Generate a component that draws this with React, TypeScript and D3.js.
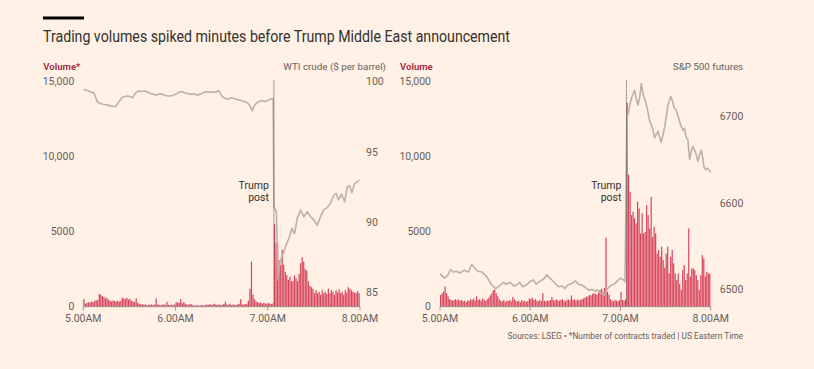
import React, { useEffect, useRef } from "react";
import * as d3 from "d3";

// ---- shared axis data ----
const TIME_TICKS = [0, 60, 120, 180]; // minutes after 5.00AM
const TIME_LABELS = ["5.00AM", "6.00AM", "7.00AM", "8.00AM"];
const VOLUME_TICKS = [0, 5000, 10000, 15000];
const VOLUME_LABELS = ["0", "5000", "10,000", "15,000"];
const POST_MINUTE = 124; // Trump post, ~7.04AM

// ---- WTI crude panel ----
// contracts traded per minute, 5.00AM - 7.59AM
const wtiVolume = [
  500, 200, 250, 300, 280, 350, 300, 400, 420, 450,
  850, 800, 700, 650, 550, 600, 450, 400, 350, 420,
  380, 350, 400, 330, 380, 600, 550, 500, 600, 480,
  520, 400, 350, 300, 550, 250, 200, 150, 180, 120,
  150, 100, 130, 120, 150, 110, 140, 550, 150, 120,
  100, 130, 150, 120, 330, 120, 100, 140, 110, 150,
  300, 280, 250, 500, 220, 300, 200, 150, 120, 180,
  150, 100, 80, 90, 100, 70, 90, 110, 80, 100,
  150, 120, 180, 100, 150, 200, 130, 110, 150, 100,
  120, 180, 330, 150, 120, 200, 100, 150, 130, 110,
  150, 200, 500, 150, 130, 180, 200, 400, 1200, 3000,
  800, 500, 350, 300, 250, 280, 200, 250, 220, 200,
  250, 200, 180, 220,
  5500, 4300, 4200, 3100, 2800, 3800, 2800, 2300, 2100, 1800,
  2000, 1700, 1700, 2100, 1900, 1700, 2200, 2900, 3300, 3000,
  2500, 2400, 1700, 1400, 1300, 1200, 900, 1100, 900, 1000,
  800, 1100, 900, 1000, 850, 1200, 900, 1100, 1000, 800,
  1100, 950, 1150, 900, 1000, 800, 1100, 950, 1300, 1200,
  1100, 1000, 950, 900, 1050, 900,
];
const wtiMinutes = [
  0, 3, 5, 7, 9, 11, 13, 15, 17, 19, 21, 23, 25, 27, 29, 31, 32, 34, 36, 38,
  40, 42, 44, 46, 48, 50, 52, 54, 56, 58, 60, 62, 64, 66, 68, 70, 72, 74, 76, 78,
  80, 82, 84, 86, 88, 90, 92, 94, 96, 98, 100, 102, 104, 106, 108, 110, 111, 113, 115, 117,
  119, 121, 123.5, 124, 125.6, 126.7, 127.8, 130, 132, 134.2, 135.7, 137.4, 139.2, 141.3, 143.5, 145.7, 147.9, 150, 152.2, 154.3,
  156.5, 158.7, 160.8, 163, 164.5, 166, 168, 170, 171.7, 173.2, 174.7, 176.4, 178.6, 179.5,
];
const wtiPrices = [
  99.46, 99.36, 99.26, 99.2, 98.6, 98.45, 98.4, 98.36, 98.3, 98.25, 98.24, 98.55, 98.85, 98.95, 98.98, 98.92, 98.85, 99.2, 99.34, 99.3,
  99.34, 99.26, 99.14, 99.1, 99.06, 99.14, 99.08, 99.0, 98.98, 99.02, 99.1, 99.24, 99.3, 99.2, 99.16, 99.1, 99.14, 99.06, 99.1, 99.22,
  99.28, 99.24, 99.28, 99.25, 99.36, 99.0, 98.82, 98.76, 98.86, 98.8, 98.74, 98.7, 98.6, 98.56, 98.36, 97.94, 98.25, 98.5, 98.62, 98.65,
  98.58, 98.74, 98.8, 91.1, 90.75, 85.9, 87.1, 87.8, 88.4, 88.98, 89.57, 89.2, 90.28, 90.87, 90.4, 90.75, 90.4, 90.16, 89.8, 90.4,
  90.9, 91.05, 91.35, 91.94, 92.06, 91.6, 92.0, 91.47, 92.53, 92.6, 92.1, 92.75, 92.9, 93.0,
];
const WTI_TICKS = [85, 90, 95, 100];

// ---- S&P 500 futures panel ----
const spxVolume = [
  780, 890, 1000, 1350, 900, 700, 500, 450, 400, 450,
  500, 420, 480, 400, 450, 350, 400, 300, 420, 380,
  500, 450, 550, 400, 700, 450, 500, 400, 550, 450,
  380, 500, 600, 750, 900, 1100, 1150, 900, 700, 500,
  400, 350, 450, 300, 400, 380, 450, 350, 650, 500,
  400, 350, 400, 300, 450, 350, 400, 320, 380, 550,
  500, 600, 450, 500, 400, 350, 450, 380, 900, 400,
  350, 420, 380, 450, 650, 450, 400, 500, 420, 380,
  450, 500, 400, 350, 450, 480, 420, 750, 450, 500,
  400, 480, 420, 450, 500, 550, 600, 650, 700, 800,
  750, 850, 900, 850, 800, 950, 1100, 1200, 1000, 1250,
  4600, 1000, 800, 500, 400, 350, 450, 400, 350, 450,
  1000, 450, 400, 500,
  13600, 8800, 7660, 6100, 6330, 5900, 5550, 7000, 6550, 4890,
  6220, 4890, 5000, 6770, 6100, 5200, 7330, 4660, 5330, 4890,
  3550, 3780, 3330, 4000, 3110, 2600, 3550, 4000, 2220, 3330,
  3780, 2890, 2220, 1780, 2220, 1500, 1110, 2440, 2780, 1780,
  2220, 5220, 2000, 2550, 2550, 2440, 2100, 1780, 1110, 2110,
  3440, 3220, 2000, 2330, 2220, 2200,
];
const spxMinutes = [
  0, 3, 5, 7, 9, 11, 13, 16, 19, 21, 23, 25, 28, 31, 34, 37, 39, 42, 44, 47,
  49, 51, 53, 55, 58, 60, 62, 64, 66, 69, 71, 73, 75, 77, 79, 81, 83, 85, 88, 90,
  92, 94, 96, 99, 101, 103, 105, 107, 109, 110, 112, 114, 116, 118, 120, 122, 123, 124.3, 125, 126,
  127.5, 129.4, 130.5, 131.6, 132.8, 133.9, 135, 136.1, 137.5, 139.4, 140.5, 141.5, 142.7, 144, 145, 146, 147.1, 148.2, 149.4, 150.5,
  151.6, 152.5, 153.4, 154.5, 155.7, 157.1, 158.3, 159.5, 160.5, 161.5, 162.6, 163.7, 164.8, 166, 167.1, 168.2, 169.5, 170.5, 171.5, 172.6,
  173.8, 174.7, 175.5, 176.7, 177.8, 179, 180,
];
const spxPrices = [
  6518, 6513, 6516, 6523, 6520, 6521, 6519, 6522, 6520, 6529, 6525, 6521, 6520, 6515, 6506, 6501, 6503, 6508, 6506, 6508,
  6504, 6505, 6508, 6503, 6506, 6509, 6511, 6506, 6509, 6512, 6517, 6513, 6510, 6506, 6503, 6504, 6501, 6505, 6507, 6510,
  6506, 6505, 6503, 6499, 6500, 6498, 6499, 6496, 6493, 6497, 6502, 6505, 6506, 6510, 6513, 6511, 6509, 6700, 6702, 6712,
  6722, 6730, 6720, 6713, 6722, 6738, 6726, 6720, 6712, 6695, 6690, 6685, 6675, 6680, 6683, 6676, 6670, 6678, 6688, 6700,
  6713, 6718, 6723, 6718, 6710, 6707, 6700, 6693, 6688, 6684, 6686, 6676, 6673, 6650, 6660, 6665, 6660, 6655, 6648, 6655,
  6661, 6652, 6642, 6638, 6640, 6638, 6635,
];
const SPX_TICKS = [6500, 6600, 6700];

const panels = [
  {
    volume: wtiVolume, minutes: wtiMinutes, prices: wtiPrices,
    priceDomain: [84, 100], priceTicks: WTI_TICKS,
    volumeTitle: "Volume*", priceTitle: "WTI crude ($ per barrel)",
    left: 83.3, right: 360, rightLabelGap: 6, titleGap: 26,
  },
  {
    volume: spxVolume, minutes: spxMinutes, prices: spxPrices,
    priceDomain: [6480, 6740], priceTicks: SPX_TICKS,
    volumeTitle: "Volume", priceTitle: "S&P 500 futures",
    left: 440, right: 710.7, rightLabelGap: 9, titleGap: 32.5,
  },
];

const FONT = "Roboto, 'Noto Sans', sans-serif";
const BG = "#fff1e5";
const TEXT = "#33302e";
const MUTED = "#66605c";
const CLARET = "#a8283f";
const BAR = "#d8455c";
const LINE = "#bab1a8";

export default function App() {
  const ref = useRef<SVGSVGElement>(null);

  useEffect(() => {
    const svg = d3.select(ref.current);
    svg.selectAll("*").remove();

    svg.append("rect").attr("width", 814).attr("height", 369).attr("fill", BG);

    // heading
    svg.append("rect").attr("x", 43).attr("y", 16.5).attr("width", 41).attr("height", 3).attr("fill", "#000");
    svg.append("text")
      .attr("x", 43).attr("y", 42)
      .attr("fill", TEXT)
      .attr("textLength", 467)
      .attr("lengthAdjust", "spacingAndGlyphs")
      .style("font-family", FONT)
      .style("font-size", "16px")
      .text("Trading volumes spiked minutes before Trump Middle East announcement");

    const top = 81.7;
    const bottom = 306.7;

    panels.forEach((p) => {
      const g = svg.append("g");
      const x = d3.scaleLinear().domain([0, 180]).range([p.left, p.right]);
      const yVol = d3.scaleLinear().domain([0, 15000]).range([bottom, top]);
      const yPrice = d3.scaleLinear().domain(p.priceDomain).range([bottom, top]);

      // headers
      g.append("text")
        .attr("x", p.left - 40).attr("y", 70)
        .attr("fill", CLARET)
        .style("font-family", FONT).style("font-size", "9.6px").style("font-weight", 600)
        .text(p.volumeTitle);
      g.append("text")
        .attr("x", p.right + p.titleGap).attr("y", 70)
        .attr("text-anchor", "end")
        .attr("fill", MUTED)
        .style("font-family", FONT).style("font-size", "9.8px")
        .text(p.priceTitle);

      // left volume labels
      VOLUME_TICKS.forEach((t, i) => {
        g.append("text")
          .attr("x", p.left - 9).attr("y", yVol(t))
          .attr("dy", "0.35em")
          .attr("text-anchor", "end")
          .attr("fill", MUTED)
          .style("font-family", FONT).style("font-size", "10.5px")
          .text(VOLUME_LABELS[i]);
      });

      // right price labels
      p.priceTicks.forEach((t) => {
        g.append("text")
          .attr("x", p.right + p.rightLabelGap).attr("y", yPrice(t))
          .attr("dy", "0.35em")
          .attr("fill", MUTED)
          .style("font-family", FONT).style("font-size", "10.5px")
          .text(t);
      });

      // volume bars, one per minute
      g.selectAll(".bar")
        .data(p.volume)
        .enter()
        .append("rect")
        .attr("x", (d, i) => x(i))
        .attr("y", (d) => yVol(d))
        .attr("width", x(1) - x(0) - 0.3)
        .attr("height", (d) => bottom - yVol(d))
        .attr("fill", BAR);

      // price line
      const line = d3.line<number>()
        .x((d, i) => x(p.minutes[i]))
        .y((d) => yPrice(d));
      g.append("path")
        .attr("d", line(p.prices))
        .attr("fill", "none")
        .attr("stroke", LINE)
        .attr("stroke-width", 1.6)
        .attr("stroke-linejoin", "round");

      // Trump post marker
      g.append("line")
        .attr("x1", x(POST_MINUTE)).attr("x2", x(POST_MINUTE))
        .attr("y1", top - 1).attr("y2", bottom)
        .attr("stroke", "#4d4845")
        .attr("stroke-width", 1)
        .attr("stroke-dasharray", "1,1");
      ["Trump", "post"].forEach((s, i) => {
        g.append("text")
          .attr("x", x(POST_MINUTE) - 5).attr("y", 185 + i * 12)
          .attr("dy", "0.35em")
          .attr("text-anchor", "end")
          .attr("fill", TEXT)
          .style("font-family", FONT).style("font-size", "10.5px")
          .text(s);
      });

      // x axis
      g.append("line")
        .attr("x1", p.left).attr("x2", p.right)
        .attr("y1", bottom).attr("y2", bottom)
        .attr("stroke", "#8f8781").attr("stroke-width", 0.8);
      TIME_TICKS.forEach((t, i) => {
        g.append("line")
          .attr("x1", x(t)).attr("x2", x(t))
          .attr("y1", bottom).attr("y2", bottom + 4)
          .attr("stroke", "#8f8781").attr("stroke-width", 0.8);
        g.append("text")
          .attr("x", x(t)).attr("y", 322)
          .attr("text-anchor", "middle")
          .attr("fill", MUTED)
          .style("font-family", FONT).style("font-size", "10.5px")
          .text(TIME_LABELS[i]);
      });
    });

    // footer
    svg.append("text")
      .attr("x", 743).attr("y", 339)
      .attr("text-anchor", "end")
      .attr("fill", MUTED)
      .style("font-family", FONT).style("font-size", "8.4px")
      .text("Sources: LSEG \u2022 *Number of contracts traded | US Eastern Time");
  }, []);

  return (
    <svg
      ref={ref}
      width={814}
      height={369}
      style={{ position: "absolute", left: 0, top: 0, display: "block" }}
    />
  );
}
